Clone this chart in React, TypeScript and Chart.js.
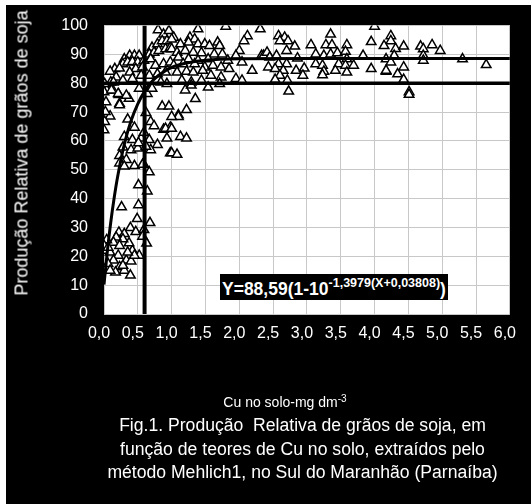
import React, { useEffect, useRef } from "react";
import { Chart, registerables } from "chart.js";

Chart.register(...registerables);

// ---- Data ----
const X_MIN = 0;
const X_MAX = 6;
const X_STEP = 0.5;
const Y_MIN = 0;
const Y_MAX = 100;
const Y_STEP = 10;

// Observations: low Cu, low yield cluster
const lowX = [0.67, 0.51, 0.64, 0.26, 0.51, 0.49, 0.68, 0.39, 0.22, 0.30, 0.47, 0.59, 0.57, 0.63, 0.52, 0.42, 0.37, 0.28, 0.18, 0.14, 0.04, 0.01, 0.09, 0.23, 0.21, 0.33, 0.40, 0.14, 0.06, 0.23, 0.17, 0.09, 0.30, 0.39, 0.28, 0.45, 0.35, 0.00, 0.06, 0.59];
const lowY = [49.2, 44.7, 42.6, 37.1, 37.8, 33.0, 31.6, 29.9, 28.3, 27.8, 28.5, 29.2, 26.9, 24.5, 20.3, 22.0, 24.6, 26.0, 26.6, 24.8, 25.7, 22.0, 21.4, 23.7, 20.3, 18.6, 18.3, 18.6, 17.4, 16.3, 14.5, 15.1, 15.1, 13.4, 16.8, 20.3, 21.4, 23.7, 23.1, 51.8];

// Observations: rising part (yield 50-80)
const midX = [0.23, 0.37, 0.09, 0.01, 0.00, 0.62, 0.86, 0.96, 0.35, 0.45, 0.69, 0.74, 0.88, 0.98, 0.30, 0.42, 0.55, 0.67, 0.79, 0.28, 0.40, 0.50, 0.69, 0.98, 0.23, 0.33, 0.45, 0.57, 0.23, 0.30, 0.59, 0.51, 0.62, 1.10, 1.22, 1.35, 0.91, 1.00, 1.13, 1.22, 0.93, 1.00, 1.08, 1.10, 1.00, 0.03, 0.02, 0.04, 0.10, 0.13, 0.22, 0.23];
const midY = [73.0, 74.7, 68.6, 66.7, 63.8, 69.8, 72.0, 72.0, 67.5, 64.7, 66.7, 65.2, 64.0, 64.7, 61.5, 60.4, 60.9, 60.4, 58.7, 57.8, 56.9, 57.5, 56.9, 55.8, 54.9, 53.5, 51.4, 51.8, 52.3, 51.2, 62.9, 59.3, 58.1, 69.0, 70.8, 74.6, 64.3, 64.3, 61.5, 60.9, 60.9, 55.8, 55.3, 68.4, 68.4, 73.5, 70.1, 77.6, 80.4, 77.6, 76.0, 72.5];

// Observations: plateau, Cu 0-1
const plateauAX = [0.80, 0.88, 0.96, 1.03, 0.71, 0.79, 0.86, 0.93, 0.67, 0.74, 0.81, 0.91, 0.98, 0.30, 0.38, 0.45, 0.52, 0.28, 0.35, 0.42, 0.50, 0.59, 0.69, 0.16, 0.23, 0.09, 0.47, 0.57, 0.76, 0.88, 0.98, 0.38, 0.55, 0.67, 0.79, 0.91, 0.18, 0.01, 0.14, 0.28, 0.42, 0.84, 0.93, 0.00, 0.11, 0.21, 0.33, 0.52, 0.64, 0.71];
const plateauAY = [98.5, 97.0, 98.2, 95.9, 92.4, 93.6, 94.7, 94.7, 90.1, 90.7, 91.3, 91.9, 92.4, 88.4, 89.6, 89.6, 89.6, 86.7, 87.3, 87.5, 87.3, 87.9, 88.4, 85.0, 85.2, 84.1, 85.0, 85.6, 86.2, 86.7, 87.3, 83.8, 82.7, 82.7, 83.2, 83.8, 82.1, 79.8, 80.4, 81.0, 81.6, 80.4, 79.8, 77.0, 77.6, 76.4, 75.8, 78.2, 76.4, 78.2];

// Observations: plateau, Cu 1-2.4
const plateauBX = [1.39, 1.80, 2.31, 1.00, 2.12, 2.07, 1.27, 1.34, 1.00, 1.13, 1.25, 1.39, 1.49, 1.56, 1.68, 1.71, 2.00, 1.08, 1.20, 1.32, 1.44, 1.63, 1.75, 1.95, 2.33, 1.10, 1.25, 1.39, 1.54, 1.83, 2.04, 1.03, 1.17, 1.34, 1.49, 1.61, 1.73, 1.85, 2.19, 1.08, 1.22, 1.32, 1.46, 1.58, 1.73, 1.15, 1.29, 1.44, 1.71, 1.95, 2.04, 1.20, 1.29, 1.54, 2.36];
const plateauBY = [98.8, 99.7, 98.8, 95.3, 96.4, 94.7, 95.9, 95.3, 91.9, 93.6, 94.2, 93.6, 93.6, 93.0, 94.2, 93.0, 91.3, 90.7, 91.3, 90.7, 90.5, 90.1, 90.1, 89.6, 89.6, 89.0, 88.4, 87.9, 88.4, 87.9, 87.3, 86.2, 86.7, 86.7, 85.6, 86.2, 85.6, 85.0, 84.4, 83.8, 84.1, 83.8, 84.4, 82.7, 82.1, 81.0, 80.4, 81.0, 79.8, 81.6, 81.0, 77.6, 79.3, 78.6, 89.6];

// Observations: plateau, Cu 2.4-4.2
const plateauCX = [4.00, 3.35, 2.58, 2.67, 2.72, 2.60, 2.82, 3.06, 3.28, 3.37, 3.59, 3.95, 2.41, 2.70, 3.13, 3.25, 3.35, 3.45, 3.57, 3.83, 2.45, 2.55, 2.86, 3.59, 2.43, 2.58, 2.70, 3.13, 3.23, 3.47, 3.57, 2.53, 2.65, 2.84, 2.96, 3.25, 3.42, 3.69, 3.95, 2.60, 2.94, 3.23, 3.59, 2.53, 2.71, 2.73];
const plateauCY = [99.7, 97.0, 96.4, 95.9, 94.7, 94.7, 92.8, 93.3, 93.3, 93.3, 93.3, 94.4, 90.7, 91.3, 90.1, 89.6, 90.1, 90.5, 91.0, 89.6, 89.0, 89.6, 88.7, 88.4, 85.6, 86.7, 86.7, 86.7, 86.2, 86.7, 86.2, 85.0, 84.4, 84.4, 85.2, 84.1, 84.4, 86.2, 85.0, 82.7, 82.7, 82.9, 83.8, 81.3, 81.0, 77.2];

// Observations: plateau, Cu above 4.1
const plateauDX = [4.24, 4.24, 4.14, 4.17, 4.17, 4.31, 4.43, 4.68, 4.72, 4.85, 4.97, 4.72, 4.72, 5.30, 5.65, 4.29, 4.24, 4.17, 4.43, 4.34, 4.43, 4.51, 4.51];
const plateauDY = [96.4, 94.7, 93.0, 88.4, 84.1, 92.0, 92.8, 92.8, 91.9, 93.3, 91.3, 89.6, 87.9, 88.4, 86.4, 89.6, 87.3, 84.4, 85.6, 83.2, 81.3, 77.0, 76.1];

// Fitted Mitscherlich curve Y=88,59(1-10^-1,3979(X+0,03808)), values read/computed at these X
const curveX = [0, 0.05, 0.1, 0.15, 0.2, 0.3, 0.4, 0.5, 0.6, 0.7, 0.8, 1.0, 1.2, 1.5, 2.0, 3.0, 4.0, 6.0];
const curveY = [10.2, 21.9, 31.8, 40.2, 47.4, 58.8, 67.0, 72.9, 77.2, 80.4, 82.6, 85.5, 86.9, 88.0, 88.5, 88.6, 88.6, 88.6];

// Reference lines: 90 % relative yield and critical Cu level
const sufficiencyY = 80;
const criticalX = 0.6;

const FONT = '"Liberation Sans", Arial, Helvetica, sans-serif';

function pts(xs: number[], ys: number[]) {
  return xs.map((x, i) => ({ x, y: ys[i] }));
}

export default function App() {
  const canvasRef = useRef<HTMLCanvasElement | null>(null);

  useEffect(() => {
    document.body.style.margin = "0";
    const canvas = canvasRef.current;
    if (!canvas) return;

    const observations = [
      ...pts(lowX, lowY),
      ...pts(midX, midY),
      ...pts(plateauAX, plateauAY),
      ...pts(plateauBX, plateauBY),
      ...pts(plateauCX, plateauCY),
      ...pts(plateauDX, plateauDY),
    ];

    const plotBg = {
      id: "plotBg",
      beforeDraw(chart: any) {
        const { ctx, chartArea } = chart;
        ctx.save();
        ctx.fillStyle = "#ffffff";
        ctx.fillRect(chartArea.left, chartArea.top, chartArea.right - chartArea.left, chartArea.bottom - chartArea.top);
        ctx.restore();
      },
    };

    const chart = new Chart(canvas, {
      type: "scatter",
      data: {
        datasets: [
          {
            label: "curve",
            data: pts(curveX, curveY),
            showLine: true,
            borderColor: "#000",
            borderWidth: 3,
            pointRadius: 0,
            cubicInterpolationMode: "monotone",
          } as any,
          {
            label: "level80",
            data: [
              { x: X_MIN, y: sufficiencyY },
              { x: X_MAX, y: sufficiencyY },
            ],
            showLine: true,
            borderColor: "#000",
            borderWidth: 3.5,
            pointRadius: 0,
          },
          {
            label: "critical",
            data: [
              { x: criticalX, y: Y_MIN },
              { x: criticalX, y: Y_MAX },
            ],
            showLine: true,
            borderColor: "#000",
            borderWidth: 4,
            pointRadius: 0,
          },
          {
            label: "obs",
            data: observations,
            pointStyle: "triangle",
            pointRadius: 5.5,
            backgroundColor: "#fff",
            borderColor: "#000",
            borderWidth: 1.5,
          },
        ],
      },
      options: {
        animation: false,
        responsive: false,
        devicePixelRatio: 1,
        layout: { padding: { left: 0, top: 23, right: 14, bottom: 0 } },
        plugins: {
          legend: { display: false },
          tooltip: { enabled: false },
        },
        scales: {
          x: {
            type: "linear",
            min: X_MIN,
            max: X_MAX,
            border: { display: false },
            grid: { color: "#c8c8c8", lineWidth: 1, drawTicks: false },
            ticks: {
              stepSize: X_STEP,
              color: "#fff",
              padding: 10,
              labelOffset: -5,
              font: { family: FONT, size: 16 },
              callback: (v: any) => Number(v).toFixed(1).replace(".", ","),
            },
            afterFit: (scale: any) => {
              scale.height = 190;
            },
          },
          y: {
            type: "linear",
            min: Y_MIN,
            max: Y_MAX,
            border: { display: false },
            grid: { color: "#c8c8c8", lineWidth: 1, drawTicks: false },
            ticks: {
              stepSize: Y_STEP,
              color: "#fff",
              padding: 16,
              font: { family: FONT, size: 16 },
            },
            afterFit: (scale: any) => {
              scale.width = 104;
            },
          },
        },
      } as any,
      plugins: [plotBg],
    });

    return () => chart.destroy();
  }, []);

  const white = "#fff";
  return (
    <div style={{ position: "relative", width: 531, height: 504, background: "#fff", overflow: "hidden", fontFamily: FONT }}>
      <div style={{ position: "absolute", left: 6, top: 5, right: 0, bottom: 0, background: "#000" }} />
      <canvas ref={canvasRef} width={531} height={504} style={{ position: "absolute", left: 0, top: 0 }} />
      <div
        style={{
          position: "absolute",
          left: 22,
          top: 153,
          transform: "translate(-50%, -50%) rotate(-90deg)",
          whiteSpace: "nowrap",
          color: white,
          fontSize: 18,
        }}
      >
        Produção Relativa de grãos de soja
      </div>
      <div
        style={{
          position: "absolute",
          left: 220,
          top: 274,
          height: 26,
          padding: "0 2px",
          background: "#000",
          color: white,
          fontWeight: "bold",
          fontSize: 17.5,
          lineHeight: "30px",
          whiteSpace: "nowrap",
        }}
      >
        Y=88,59(1-10
        <span style={{ fontSize: 12.5, position: "relative", top: -8 }}>-1,3979(X+0,03808)</span>)
      </div>
      <div
        style={{
          position: "absolute",
          left: 0,
          width: 570,
          top: 392,
          textAlign: "center",
          color: white,
          fontSize: 14,
          lineHeight: "20px",
          whiteSpace: "nowrap",
        }}
      >
        Cu no solo-mg dm<span style={{ fontSize: 10, position: "relative", top: -5 }}>-3</span>
      </div>
      <div
        style={{
          position: "absolute",
          left: 0,
          width: 605,
          top: 414,
          textAlign: "center",
          color: white,
          fontSize: 17.6,
          lineHeight: "23.5px",
          whiteSpace: "pre",
        }}
      >
        {"Fig.1. Produção  Relativa de grãos de soja, em\nfunção de teores de Cu no solo, extraídos pelo\nmétodo Mehlich1, no Sul do Maranhão (Parnaíba)"}
      </div>
    </div>
  );
}
